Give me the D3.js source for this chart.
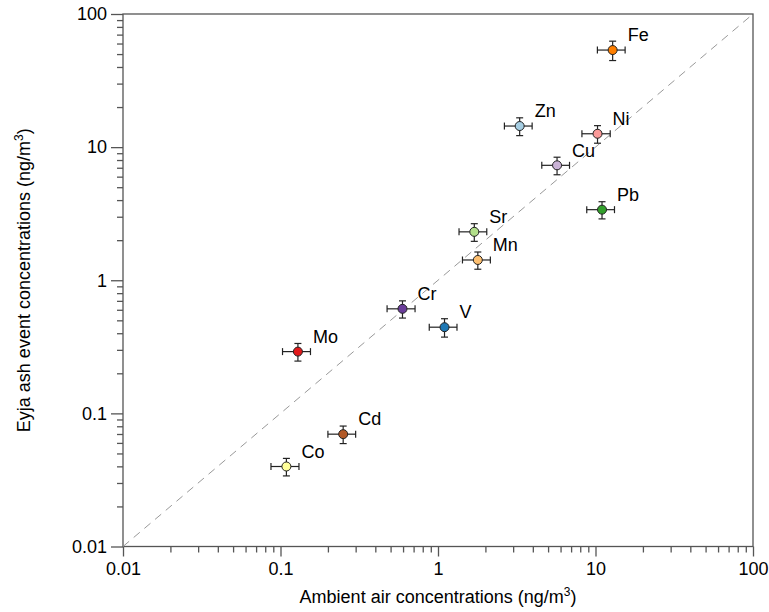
<!DOCTYPE html>
<html>
<head>
<meta charset="utf-8">
<script src="https://cdn.jsdelivr.net/npm/d3@7"></script>
<style>
  body { margin: 0; background: #fff; }
  svg { font-family: "Liberation Sans", Arial, Helvetica, sans-serif; }
</style>
</head>
<body>
<svg id="chart" width="769" height="612"></svg>
<script>
// elements and their concentrations (ng/m3)
var elements = ["Fe", "Zn", "Ni", "Cu", "Pb", "Sr", "Mn", "Cr", "V", "Mo", "Cd", "Co"];
var ambient = [12.85, 3.3, 10.3, 5.7, 11.0, 1.7, 1.79, 0.595, 1.1, 0.129, 0.25, 0.109];
var ambientErr = [2.57, 0.66, 2.1, 1.14, 2.2, 0.34, 0.36, 0.12, 0.22, 0.026, 0.05, 0.022];
var eyja = [53.6, 14.4, 12.6, 7.3, 3.39, 2.31, 1.42, 0.61, 0.444, 0.291, 0.0698, 0.0399];
var eyjaErr = [8.9, 2.2, 1.9, 1.1, 0.5, 0.35, 0.21, 0.09, 0.07, 0.044, 0.0105, 0.006];
var tickValues = [0.01, 0.1, 1, 10, 100];
var tickLabels = ["0.01", "0.1", "1", "10", "100"];

var svg = d3.select("#chart"),
    margin = {top: 14, right: 16, bottom: 65.5, left: 123},
    width = +svg.attr("width") - margin.left - margin.right,
    height = +svg.attr("height") - margin.top - margin.bottom;

var x = d3.scaleLog().domain([0.01, 100]).range([0, width]),
    y = d3.scaleLog().domain([0.01, 100]).range([height, 0]);

var color = d3.scaleOrdinal()
    .domain(["Zn", "V", "Sr", "Pb", "Ni", "Mo", "Mn", "Fe", "Cu", "Cr", "Co", "Cd"])
    .range(d3.schemePaired);

var data = elements.map(function(e, i) {
  return {name: e, x: ambient[i], xe: ambientErr[i], y: eyja[i], ye: eyjaErr[i]};
});

var g = svg.append("g")
    .attr("transform", "translate(" + margin.left + "," + margin.top + ")");

// minor ticks (2..9 in each decade)
var minor = [];
for (var d = 0; d < 4; d++) {
  for (var k = 2; k < 10; k++) minor.push(k * Math.pow(10, d - 2));
}

var axisColor = "#555";
var fmt = function(d) { return tickLabels[tickValues.indexOf(d)]; };

var xMinor = g.append("g")
    .attr("transform", "translate(0," + height + ")")
    .call(d3.axisBottom(x).tickValues(minor).tickSize(6).tickFormat(""));
var xMajor = g.append("g")
    .attr("transform", "translate(0," + height + ")")
    .call(d3.axisBottom(x).tickValues(tickValues).tickSize(10).tickPadding(6).tickFormat(fmt));
var yMinor = g.append("g")
    .call(d3.axisLeft(y).tickValues(minor).tickSize(6).tickFormat(""));
var yMajor = g.append("g")
    .call(d3.axisLeft(y).tickValues(tickValues).tickSize(12).tickPadding(4).tickFormat(fmt));

[xMinor, xMajor, yMinor, yMajor].forEach(function(a) {
  a.select(".domain").remove();
  a.selectAll(".tick line").attr("stroke", axisColor).attr("stroke-width", 1.3);
  a.selectAll(".tick text").attr("fill", "#000").style("font-size", "18px");
});

// frame
g.append("rect")
    .attr("width", width)
    .attr("height", height)
    .attr("fill", "none")
    .attr("stroke", axisColor)
    .attr("stroke-width", 1.3);

// 1:1 line
g.append("line")
    .attr("x1", x(0.01)).attr("y1", y(0.01))
    .attr("x2", x(100)).attr("y2", y(100))
    .attr("stroke", "#999")
    .attr("stroke-width", 1)
    .attr("stroke-dasharray", "8,6");

var pts = g.selectAll(".pt")
    .data(data)
    .enter().append("g")
    .attr("class", "pt");

var cap = 3.5;
// horizontal error bars
pts.append("line")
    .attr("x1", function(d) { return x(d.x - d.xe); })
    .attr("x2", function(d) { return x(d.x + d.xe); })
    .attr("y1", function(d) { return y(d.y); })
    .attr("y2", function(d) { return y(d.y); });
pts.append("line")
    .attr("x1", function(d) { return x(d.x - d.xe); })
    .attr("x2", function(d) { return x(d.x - d.xe); })
    .attr("y1", function(d) { return y(d.y) - cap; })
    .attr("y2", function(d) { return y(d.y) + cap; });
pts.append("line")
    .attr("x1", function(d) { return x(d.x + d.xe); })
    .attr("x2", function(d) { return x(d.x + d.xe); })
    .attr("y1", function(d) { return y(d.y) - cap; })
    .attr("y2", function(d) { return y(d.y) + cap; });
// vertical error bars
pts.append("line")
    .attr("x1", function(d) { return x(d.x); })
    .attr("x2", function(d) { return x(d.x); })
    .attr("y1", function(d) { return y(d.y - d.ye); })
    .attr("y2", function(d) { return y(d.y + d.ye); });
pts.append("line")
    .attr("x1", function(d) { return x(d.x) - cap; })
    .attr("x2", function(d) { return x(d.x) + cap; })
    .attr("y1", function(d) { return y(d.y - d.ye); })
    .attr("y2", function(d) { return y(d.y - d.ye); });
pts.append("line")
    .attr("x1", function(d) { return x(d.x) - cap; })
    .attr("x2", function(d) { return x(d.x) + cap; })
    .attr("y1", function(d) { return y(d.y + d.ye); })
    .attr("y2", function(d) { return y(d.y + d.ye); });
pts.selectAll("line").attr("stroke", "#222").attr("stroke-width", 1.2);

pts.append("circle")
    .attr("cx", function(d) { return x(d.x); })
    .attr("cy", function(d) { return y(d.y); })
    .attr("r", 4.5)
    .attr("fill", function(d) { return color(d.name); })
    .attr("stroke", "#222")
    .attr("stroke-width", 1);

pts.append("text")
    .attr("x", function(d) { return x(d.x) + 15; })
    .attr("y", function(d) { return y(d.y) - 15; })
    .attr("dy", "0.35em")
    .style("font-size", "18px")
    .text(function(d) { return d.name; });

// axis titles
var xt = svg.append("text")
    .attr("x", margin.left + width / 2)
    .attr("y", 603)
    .attr("text-anchor", "middle")
    .style("font-size", "18px");
xt.append("tspan").text("Ambient air concentrations (ng/m");
xt.append("tspan").attr("dy", -7).style("font-size", "12px").text("3");
xt.append("tspan").attr("dy", 7).text(")");

var yt = svg.append("text")
    .attr("transform", "translate(30," + (margin.top + height / 2) + ") rotate(-90)")
    .attr("text-anchor", "middle")
    .style("font-size", "18px");
yt.append("tspan").text("Eyja ash event concentrations (ng/m");
yt.append("tspan").attr("dy", -7).style("font-size", "12px").text("3");
yt.append("tspan").attr("dy", 7).text(")");
</script>
</body>
</html>
